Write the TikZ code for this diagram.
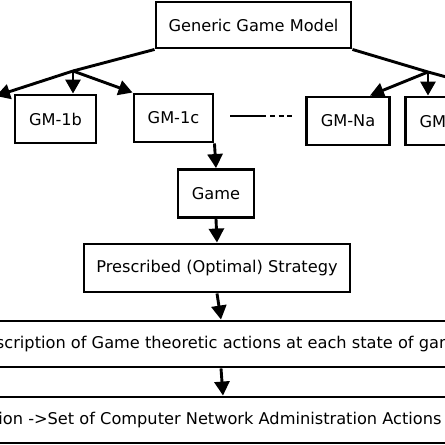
\documentclass[tikz,border=0pt]{standalone}
\usepackage{fontspec}
\setmainfont{DejaVu Sans}
\usetikzlibrary{arrows.meta,calc}
\begin{document}
\begin{tikzpicture}[x=1pt,y=-1pt,
  box/.style={draw,line width=2.9pt,inner sep=0pt,font=\fontsize{16.2}{18}\selectfont},
  conn/.style={line width=2.9pt},
  arr/.style={conn,-{Triangle[length=14pt,width=15pt]}}]
\useasboundingbox (0,0) rectangle (445,445);
\clip (0,0) rectangle (445,445);
\node[box,minimum width=195pt,minimum height=46pt] (ggm) at (253.5,25) {Generic Game Model};
\node[box,minimum width=81pt,minimum height=48pt] (gm1b) at (55.5,119) {GM-1b};
\node[box,minimum width=79pt,minimum height=48pt] (gm1c) at (173.5,118) {GM-1c};
\node[box,minimum width=83pt,minimum height=48pt] (gmna) at (348,121) {GM-Na};
\node[box,minimum width=83pt,minimum height=48pt] (gmnb) at (447,121) {GM-Nb};
\node[box,minimum width=76pt,minimum height=48pt] (game) at (216,193.5) {Game};
\node[box,minimum width=266pt,minimum height=48pt] (pres) at (217,268) {Prescribed (Optimal) Strategy};
\node[box,minimum width=700pt,minimum height=46pt] (w1) at (217.5,344) {Prescription of Game theoretic actions at each state of game};
\node[box,minimum height=46pt,inner xsep=60pt,anchor=east] (w2) at (503,420) {Game Action ->Set of Computer Network Administration Actions};
\coordinate (bl) at (73,71);
\coordinate (br) at (428,72);
\coordinate (gm1atip) at (-4,96);
\coordinate (gmnctip) at (520,97);
% left branch
\draw[conn] (ggm.south west) -- (bl);
\draw[arr] (bl) -- (gm1atip);
\draw[arr] (bl) -- (bl |- gm1b.north);
\draw[arr] (bl) -- (gm1c.north west);
% right branch
\draw[conn] (ggm.south east) -- (br);
\draw[arr] (br) -- (gmnctip);
\draw[arr] (br) -- (br |- gmnb.north);
\draw[arr] (br) -- (370,0 |- gmna.north);
% ellipsis line
\draw[conn,line width=2.6pt] (230,116) -- (266,116);
\draw[conn,line width=2.6pt,dash pattern=on 5pt off 3.5pt] (270,116) -- (293,116);
% chain
\draw[arr] (gm1c.south east) -- (game.north);
\draw[arr] (game.south) -- (pres.north);
\draw[arr] (pres.south) -- (221,0 |- w1.north);
\draw[arr] (221,0 |- w1.south) -- (223,0 |- w2.north);
\end{tikzpicture}
\end{document}
